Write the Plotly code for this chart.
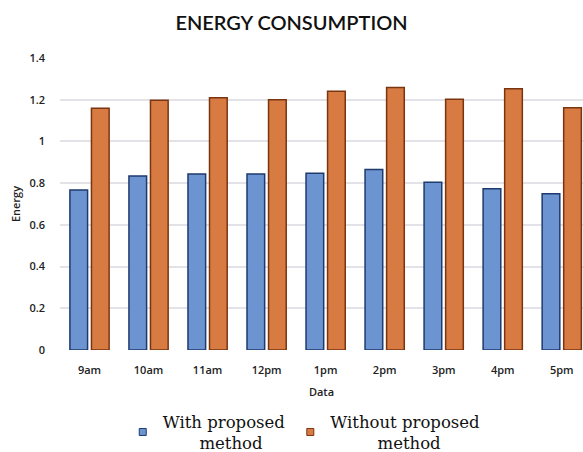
import plotly.graph_objects as go

# Hourly energy consumption, with and without the proposed method
hours = ["9am", "10am", "11am", "12pm", "1pm", "2pm", "3pm", "4pm", "5pm"]
with_method = [0.767, 0.834, 0.844, 0.844, 0.847, 0.866, 0.804, 0.773, 0.749]
without_method = [1.159, 1.198, 1.21, 1.2, 1.24, 1.259, 1.202, 1.253, 1.162]
y_ticks = [0, 0.2, 0.4, 0.6, 0.8, 1, 1.2, 1.4]
y_tick_text = ["0", "0.2", "0.4", "0.6", "0.8", "1", "1.2", "1.4"]

nb = "\u00a0"
series = [
    ("With proposed<br>" + nb * 7 + "method", with_method, "#6c94d0", "#1f3a6e"),
    ("Without proposed<br>" + nb * 9 + "method", without_method, "#d87b42", "#7a3510"),
]

fig = go.Figure()
for name, values, fill, edge in series:
    fig.add_trace(go.Bar(
        x=hours, y=values, name=name, showlegend=False,
        marker=dict(color=fill, line=dict(color=edge, width=1.5)),
    ))
# small square swatches for the legend
for name, values, fill, edge in series:
    fig.add_trace(go.Scatter(
        x=[None], y=[None], name=name, mode="markers",
        marker=dict(symbol="square", size=7, color=fill,
                    line=dict(color=edge, width=1)),
    ))

axis_font = dict(family="Open Sans", size=11, color="#222", weight=600)

fig.update_layout(
    width=583, height=452,
    margin=dict(l=60, r=0, t=58, b=102, autoexpand=False),
    paper_bgcolor="white", plot_bgcolor="white",
    barmode="group", bargap=0.27, bargroupgap=0.18,
    title=dict(text="ENERGY CONSUMPTION", x=0.5, xanchor="center",
               y=0.95, yanchor="middle",
               font=dict(family="Lato", size=20, color="#111", weight=600)),
    xaxis=dict(range=[-0.5, 8.36], showgrid=False, showline=False,
               ticks="", tickfont=axis_font, ticklabelstandoff=12,
               title=dict(text="Data", standoff=12, font=axis_font)),
    yaxis=dict(range=[0, 1.4], tickvals=y_ticks, ticktext=y_tick_text,
               showgrid=True, gridcolor="#e2e2e8", gridwidth=1.5,
               zeroline=False, showline=False, ticks="",
               tickfont=axis_font, ticklabelstandoff=14,
               title=dict(text="Energy", standoff=6, font=axis_font)),
    legend=dict(orientation="h", x=0.467, xanchor="center", y=-0.185, yanchor="top",
                font=dict(family="DejaVu Serif", size=16.5, color="#111"),
                itemwidth=30, tracegroupgap=0),
    showlegend=True,
)

fig.write_html("out.html")
